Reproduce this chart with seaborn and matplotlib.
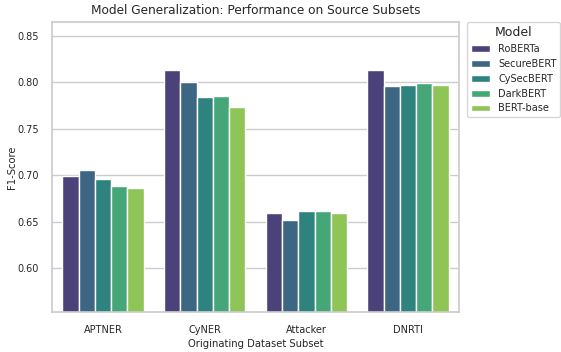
import matplotlib
matplotlib.use("Agg")
import matplotlib.pyplot as plt
import seaborn as sns
import pandas as pd

subsets = ["APTNER", "CyNER", "Attacker", "DNRTI"]
models = ["RoBERTa", "SecureBERT", "CySecBERT", "DarkBERT", "BERT-base"]
roberta = [0.699, 0.8125, 0.659, 0.8125]
securebert = [0.706, 0.800, 0.652, 0.7955]
cysecbert = [0.696, 0.784, 0.6615, 0.7966]
darkbert = [0.6885, 0.785, 0.6615, 0.7995]
bertbase = [0.6865, 0.773, 0.6593, 0.7966]

series = [roberta, securebert, cysecbert, darkbert, bertbase]
rows = []
for m, vals in zip(models, series):
    for s, v in zip(subsets, vals):
        rows.append({"Subset": s, "Model": m, "F1": v})
df = pd.DataFrame(rows)

sns.set_theme(style="whitegrid")
fig = plt.figure(figsize=(5.61, 3.52), dpi=100)
ax = fig.add_axes([0.093, 0.114, 0.725, 0.823])
sns.barplot(data=df, x="Subset", y="F1", hue="Model", palette="viridis", ax=ax,
            order=subsets, hue_order=models)
ax.set_ylim(0.553, 0.8644)
ax.set_title("Model Generalization: Performance on Source Subsets", fontsize=8.7)
ax.set_xlabel("Originating Dataset Subset", fontsize=7.2, labelpad=3)
ax.set_ylabel("F1-Score", fontsize=7.2, labelpad=0.5)
ax.tick_params(axis="both", labelsize=7)
leg = ax.legend(title="Model", bbox_to_anchor=(1.02, 1), loc="upper left",
                borderaxespad=0, fontsize=7, title_fontsize=9)
fig.savefig("out.png", dpi=100)
